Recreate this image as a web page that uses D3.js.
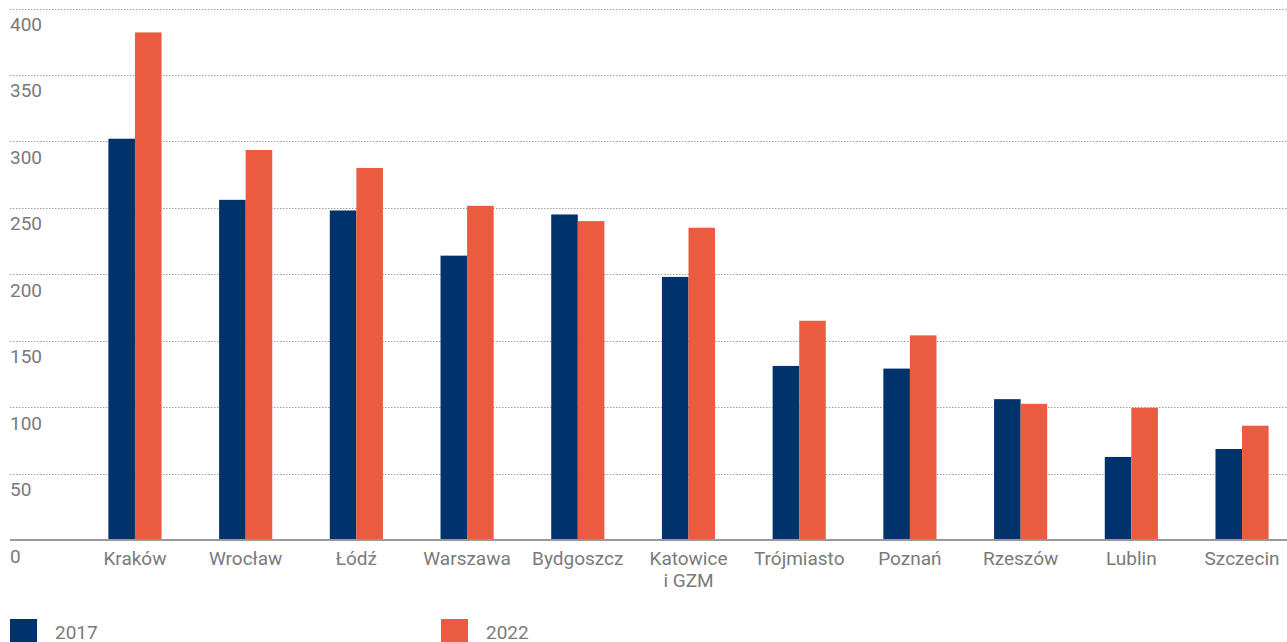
<!DOCTYPE html>
<html><head><meta charset="utf-8">
<script src="https://cdn.jsdelivr.net/npm/d3@7"></script>
<style>body{margin:0;background:#fff;} svg{display:block;}</style>
</head><body>
<script>
const categories = ["Kraków","Wrocław","Łódź","Warszawa","Bydgoszcz","Katowice\ni GZM","Trójmiasto","Poznań","Rzeszów","Lublin","Szczecin"];
const series = ["2017","2022"];
const values2017 = [302,256,248,214,245,198,131,129,106,62.5,68.5];
const values2022 = [382,293.5,280,251.5,240,235,165,154,102.5,99.5,86];
const yTicks = [0,50,100,150,200,250,300,350,400];
const colors = ["#00336c","#eb5b3f"];

const W = 1287, H = 642;
const svg = d3.select("body").append("svg").attr("width", W).attr("height", H);
const font = "Roboto, 'Noto Sans', sans-serif";
const fs = 19;
const textColor = "#7a7a7a";
const y = d3.scaleLinear().domain([0,400]).range([540, 8.5]);
const x0 = d3.scaleBand().domain(categories).range([79.6, 1297.4]).paddingInner(0.52).paddingOuter(0.26);
const x1 = d3.scaleBand().domain(series).range([0, x0.bandwidth()]);

// gridlines
svg.append("g").selectAll("line").data(yTicks.filter(d=>d>0)).join("line")
  .attr("x1", 10).attr("x2", W).attr("y1", d=>Math.round(y(d))+0.5).attr("y2", d=>Math.round(y(d))+0.5)
  .attr("stroke", "#a0a0a0").attr("stroke-width", 1).attr("stroke-dasharray", "1.5,1.5");

// y labels
svg.append("g").selectAll("text").data(yTicks).join("text")
  .attr("x", 10).attr("y", d=>y(d)+22.5)
  .attr("font-family", font).attr("font-size", fs).attr("fill", textColor)
  .text(d=>d);

// bars
const data = categories.map((c,i)=>({c, v:[values2017[i], values2022[i]]}));
const g = svg.append("g").selectAll("g").data(data).join("g")
  .attr("transform", d=>`translate(${x0(d.c)},0)`);
g.selectAll("rect").data(d=>d.v.map((v,j)=>({s:series[j], v, j}))).join("rect")
  .attr("x", d=>x1(d.s)).attr("width", x1.bandwidth())
  .attr("y", d=>y(d.v)).attr("height", d=>y(0)-y(d.v))
  .attr("fill", d=>colors[d.j]);

// baseline
svg.append("line").attr("x1", 10).attr("x2", W).attr("y1", 540).attr("y2", 540)
  .attr("stroke", "#999").attr("stroke-width", 2);

// x labels
const xl = svg.append("g").selectAll("text").data(categories).join("text")
  .attr("x", d=>x0(d)+x0.bandwidth()/2).attr("y", 565)
  .attr("text-anchor", "middle").attr("font-family", font).attr("font-size", fs).attr("fill", textColor);
xl.each(function(d){
  const t = d3.select(this);
  d.split("\n").forEach((line,i)=>{
    t.append("tspan").attr("x", x0(d)+x0.bandwidth()/2).attr("dy", i===0?0:21.5).text(line);
  });
});

// legend
const legX = [10, 441];
const lg = svg.append("g").selectAll("g").data(series).join("g");
lg.append("rect").attr("x", (d,i)=>legX[i]).attr("y", 619).attr("width", 27).attr("height", 27)
  .attr("fill", (d,i)=>colors[i]);
lg.append("text").attr("x", (d,i)=>legX[i]+45).attr("y", 639)
  .attr("font-family", font).attr("font-size", fs).attr("fill", textColor).text(d=>d);
</script>
</body></html>
